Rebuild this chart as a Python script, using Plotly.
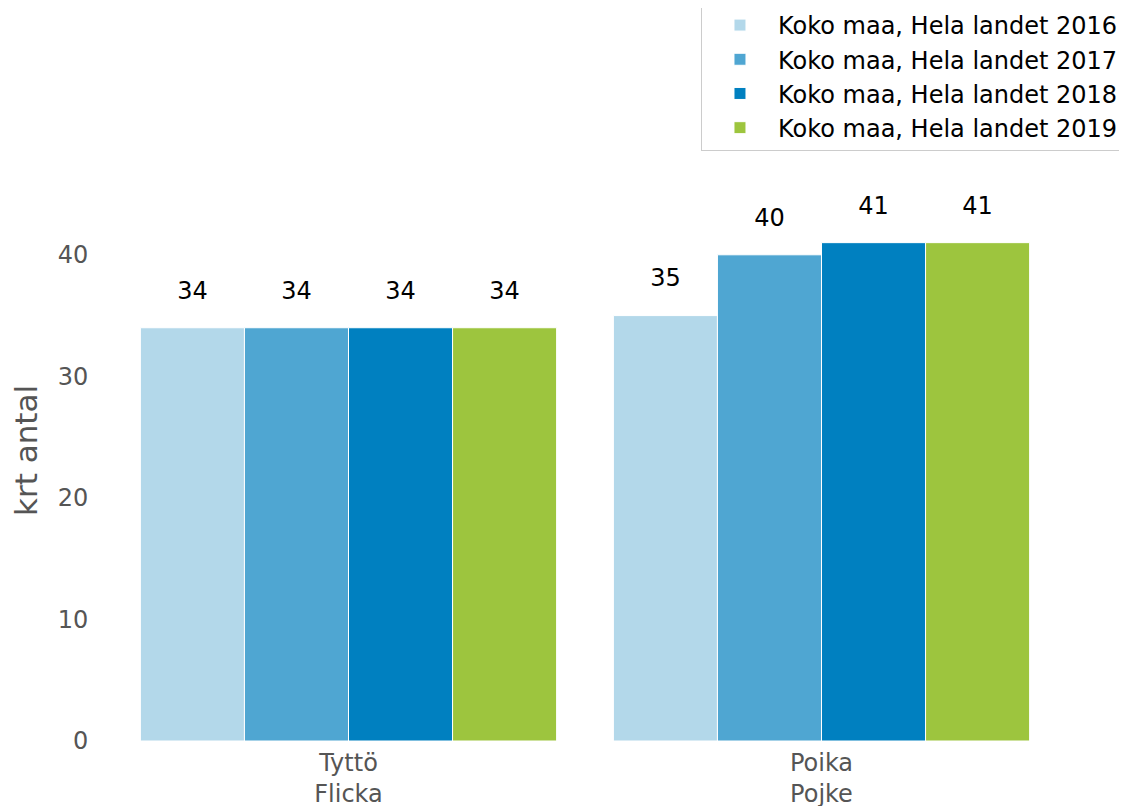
import plotly.graph_objects as go

categories = ["Tyttö<br>Flicka", "Poika<br>Pojke"]
series_names = [
    "Koko maa, Hela landet 2016",
    "Koko maa, Hela landet 2017",
    "Koko maa, Hela landet 2018",
    "Koko maa, Hela landet 2019",
]
values_2016 = [34, 35]
values_2017 = [34, 40]
values_2018 = [34, 41]
values_2019 = [34, 41]
colors = ["#B3D8EA", "#4FA6D2", "#0080C0", "#9DC53E"]

series_values = [values_2016, values_2017, values_2018, values_2019]

fig = go.Figure()
for name, vals, color in zip(series_names, series_values, colors):
    fig.add_trace(go.Bar(
        name=name,
        x=categories,
        y=vals,
        marker=dict(color=color, line=dict(color="white", width=1)),
        # blank second line (small base font) lifts the label off the bar top
        text=[f"<span style='font-size:24px'>{v}</span><br> " for v in vals],
        textposition="outside",
        textfont=dict(size=17, color="black", family="DejaVu Sans"),
        cliponaxis=False,
    ))

# page body has an 8px margin, so the figure coordinates are shifted by it
fig.update_layout(
    width=1127,
    height=806,
    barmode="group",
    bargap=0.12,
    bargroupgap=0,
    plot_bgcolor="white",
    paper_bgcolor="white",
    font=dict(family="DejaVu Sans", size=24, color="#555555"),
    margin=dict(l=104, r=77, t=152, b=73, autoexpand=False),
    legend=dict(
        x=0.6226, y=1.272, xanchor="left", yanchor="top",
        bordercolor="#CCCCCC", borderwidth=1,
        font=dict(size=24, color="black"),
        bgcolor="white",
        itemwidth=66,
        tracegroupgap=0,
    ),
    showlegend=True,
)
fig.update_xaxes(
    range=[-0.5, 1.5],
    showgrid=False, showline=False, zeroline=False,
    tickfont=dict(size=24, color="#555555"),
    ticks="",
    ticklabelstandoff=5,
)
fig.update_yaxes(
    range=[0, 47.8],
    tickvals=[0, 10, 20, 30, 40],
    showgrid=False, showline=False, zeroline=False,
    ticks="outside", ticklen=18, tickcolor="rgba(0,0,0,0)",
    tickfont=dict(size=24, color="#555555"),
    title=dict(text="krt antal", font=dict(size=31, color="#555555"), standoff=14),
)

fig.write_html("out.html")
